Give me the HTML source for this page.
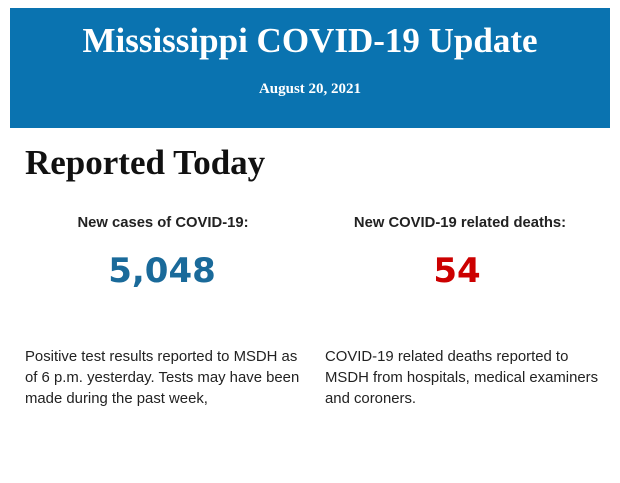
<!DOCTYPE html>
<html><head><style>
body{margin:0;background:#fff;width:620px;height:483px;overflow:hidden;position:relative;font-family:"Liberation Sans",sans-serif}
.hdr{position:absolute;left:10px;top:8px;width:600px;height:120px;background:#0a73b0;color:#fff;text-align:center;font-family:"Liberation Serif",serif;font-weight:bold}
.t{position:absolute;top:13px;width:100%;font-size:35px}
.d{position:absolute;top:73px;width:100%;font-size:15px}
.h{position:absolute;left:25px;top:143px;font-family:"Liberation Serif",serif;font-weight:bold;font-size:35px;color:#111}
.lab{position:absolute;top:215px;width:300px;text-align:center;font-weight:bold;font-size:14.8px;color:#222}
.num{position:absolute;top:251px;width:300px;text-align:center;font-family:"DejaVu Sans",sans-serif;font-weight:bold;font-size:34px}
.p{position:absolute;top:347px;width:285px;font-size:14.9px;line-height:21px;color:#222}
</style></head><body>
<div class="hdr"><div class="t">Mississippi COVID-19 Update</div><div class="d">August 20, 2021</div></div>
<div class="h">Reported Today</div>
<div class="lab" style="left:13px">New cases of COVID-19:</div>
<div class="lab" style="left:310px">New COVID-19 related deaths:</div>
<div class="num" style="left:12px;color:#1a6a9a">5,048</div>
<div class="num" style="left:307px;color:#c00">54</div>
<div class="p" style="left:25px">Positive test results reported to MSDH as of 6 p.m. yesterday. Tests may have been made during the past week,</div>
<div class="p" style="left:325px">COVID-19 related deaths reported to MSDH from hospitals, medical examiners and coroners.</div>
</body></html>
